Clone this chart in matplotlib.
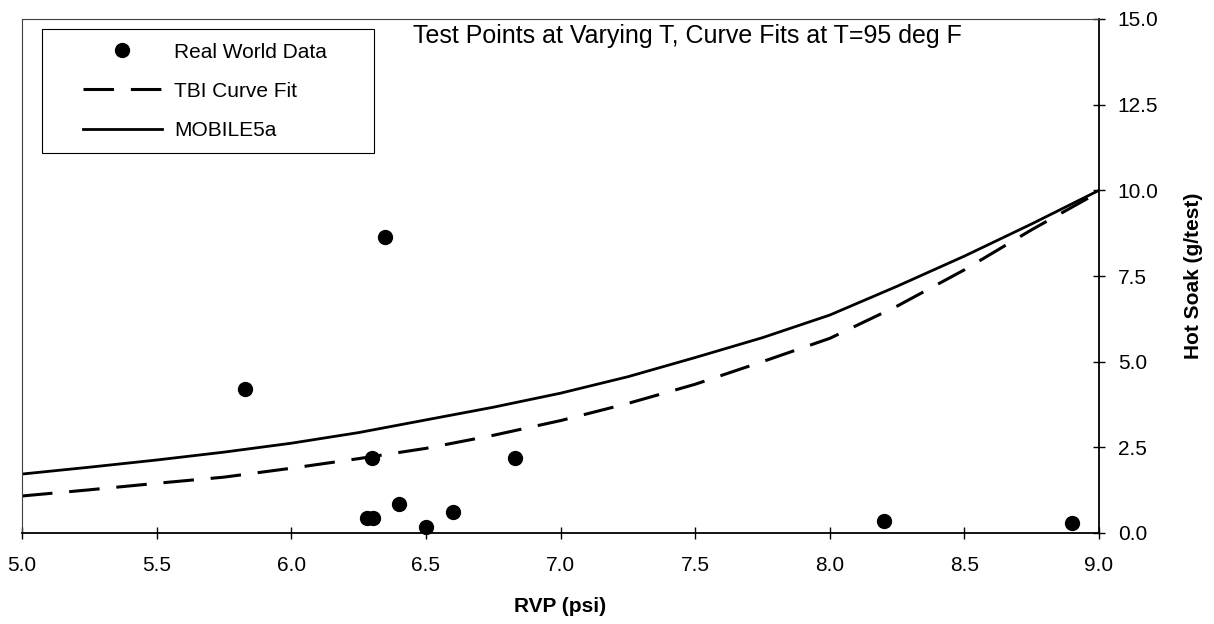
import matplotlib.pyplot as plt
import numpy as np
from matplotlib.lines import Line2D
from matplotlib.legend_handler import HandlerLine2D

plt.rcParams['font.family'] = ['Liberation Sans', 'DejaVu Sans']

# Real world test points
rvp_points = [5.83, 6.35, 6.30, 6.83, 6.28, 6.305, 6.40, 6.50, 6.60, 8.20, 8.90]
soak_points = [4.2, 8.63, 2.19, 2.19, 0.43, 0.43, 0.85, 0.18, 0.60, 0.36, 0.30]

# Curve fits at T=95 deg F
rvp_curve = [5.0, 5.25, 5.5, 5.75, 6.0, 6.25, 6.5, 6.75, 7.0, 7.25, 7.5, 7.75,
             8.0, 8.25, 8.5, 8.75, 9.0]
tbi_fit = [1.08, 1.26, 1.45, 1.63, 1.89, 2.17, 2.47, 2.85, 3.28, 3.78, 4.34, 5.0,
           5.68, 6.62, 7.68, 8.85, 9.95]
mobile5a = [1.72, 1.92, 2.13, 2.36, 2.62, 2.93, 3.30, 3.67, 4.08, 4.56, 5.12, 5.70,
            6.36, 7.20, 8.08, 9.02, 10.0]

fig = plt.figure(figsize=(12.14, 6.24), dpi=100)
ax = fig.add_axes([22 / 1214, 1 - 533 / 624, 1077 / 1214, 514 / 624])

ax.plot(rvp_points, soak_points, 'o', color='black', markersize=10,
        label='Real World Data', clip_on=False, zorder=3)
ax.plot(rvp_curve, tbi_fit, color='black', lw=2.2, dashes=(10, 5.5),
        label='TBI Curve Fit')
ax.plot(rvp_curve, mobile5a, color='black', lw=2.0, label='MOBILE5a')

ax.set_xlim(5.0, 9.0)
ax.set_ylim(0.0, 15.0)
ax.set_xticks(np.arange(5.0, 9.01, 0.5))
ax.set_yticks(np.arange(0.0, 15.01, 2.5))
ax.xaxis.set_major_formatter(plt.FormatStrFormatter('%.1f'))
ax.yaxis.set_major_formatter(plt.FormatStrFormatter('%.1f'))
ax.yaxis.tick_right()
ax.yaxis.set_label_position('right')
ax.tick_params(direction='inout', length=9, width=1, labelsize=15)
ax.tick_params(axis='x', pad=12)
ax.tick_params(axis='y', pad=9)

for side in ['top', 'left']:
    ax.spines[side].set_color('#404040')
    ax.spines[side].set_linewidth(0.8)
for side in ['bottom', 'right']:
    ax.spines[side].set_color('black')
    ax.spines[side].set_linewidth(1.3)

ax.set_xlabel('RVP (psi)', fontsize=15, fontweight='bold', labelpad=16)
ax.set_ylabel('Hot Soak (g/test)', fontsize=15, fontweight='bold', labelpad=18)

ax.text(0.363, 0.966, 'Test Points at Varying T, Curve Fits at T=95 deg F',
        transform=ax.transAxes, fontsize=18, va='center', ha='left')

leg = ax.legend(loc='upper left',
                bbox_to_anchor=(20 / 1077, 1 - 125 / 514 - 10 / 514, 332 / 1077, 125 / 514),
                mode='expand', borderaxespad=0, fontsize=15,
                handlelength=5.1, handletextpad=0.6, labelspacing=0.97,
                borderpad=0.65, fancybox=False, frameon=True,
                edgecolor='black', framealpha=1,
                handler_map={Line2D: HandlerLine2D(xpad=1.3)})
leg.get_frame().set_linewidth(0.8)

fig.savefig('out.png', dpi=100)
